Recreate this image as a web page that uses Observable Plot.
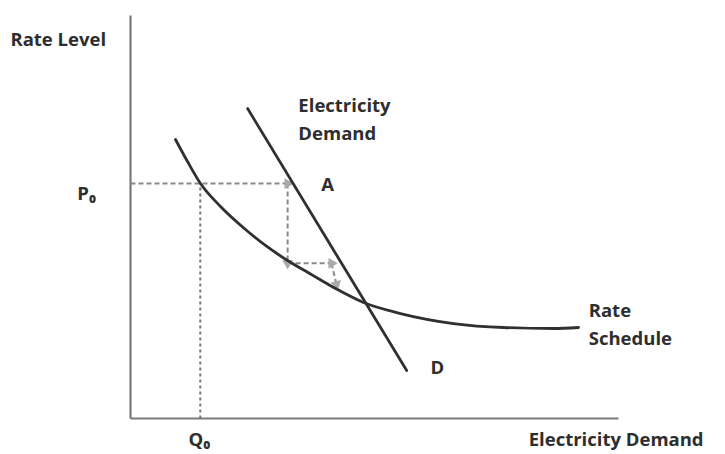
<!DOCTYPE html>
<html>
<head>
<meta charset="utf-8">
<script src="https://cdn.jsdelivr.net/npm/d3@7"></script>
<script src="https://cdn.jsdelivr.net/npm/@observablehq/plot@0.6"></script>
<style>
  html, body { margin: 0; padding: 0; background: #fff; }
  #chart svg { display: block; }
</style>
</head>
<body>
<div id="chart"></div>
<script>
// Rate schedule (quantity, rate) in abstract units 0–100
const scheduleQ = [9.22, 11.68, 14.34, 18.44, 23.57, 27.66, 32.17, 36.89, 42.01, 47.75, 55.33, 66.19, 76.43, 86.68, 91.80];
const scheduleR = [69.23, 63.77, 58.31, 52.61, 46.90, 42.93, 39.21, 35.86, 32.26, 28.78, 26.05, 23.57, 22.58, 22.33, 22.58];
// Electricity demand line
const demandQ = [24.0, 56.6];
const demandR = [76.9, 11.9];
// Starting rate and quantity
const P0 = 58.3, Q0 = 14.3;
// Iteration steps (quantity, rate)
const stepQ = [0, 32.2, 32.2, 41.2, 42.2];
const stepR = [P0, P0, 38.5, 38.5, 33.3];

const schedule = scheduleQ.map((q, i) => ({q, r: scheduleR[i]}));
const demand = demandQ.map((q, i) => ({q, r: demandR[i]}));
const segs = [];
for (let i = 0; i < stepQ.length - 1; i++) {
  segs.push({x1: stepQ[i], y1: stepR[i], x2: stepQ[i + 1], y2: stepR[i + 1]});
}
const heads = segs.map(s => ({
  q: s.x2, r: s.y2,
  rot: 90 - Math.atan2(s.y2 - s.y1, (s.x2 - s.x1) * 4.88 / 4.03) * 180 / Math.PI
}));

const font = "'Open Sans', sans-serif";
const labels = [
  {q: -24.6, r: 93.8, t: "Rate Level"},
  {q: 34.4, r: 77.4, t: "Electricity"},
  {q: 34.4, r: 70.5, t: "Demand"},
  {q: 39.1, r: 57.8, t: "A"},
  {q: -10.9, r: 55.8, t: "P₀"},
  {q: 11.9, r: -5.3, t: "Q₀"},
  {q: 61.5, r: 12.4, t: "D"},
  {q: 93.9, r: 26.6, t: "Rate"},
  {q: 93.9, r: 19.6, t: "Schedule"},
  {q: 81.6, r: -5.3, t: "Electricity Demand"}
];

const chart = Plot.plot({
  width: 725,
  height: 454,
  margin: 0,
  style: {background: "#fff"},
  x: {domain: [0, 100], range: [130, 618], axis: null},
  y: {domain: [0, 100], range: [418, 15], axis: null},
  marks: [
    // axes
    Plot.link([{x1: 0, y1: 0, x2: 0, y2: 100}, {x1: 0, y1: 0, x2: 100, y2: 0}],
      {x1: "x1", y1: "y1", x2: "x2", y2: "y2", stroke: "#7a7a7a", strokeWidth: 2.2}),
    // P0 / Q0 guides
    Plot.link([{x1: Q0, y1: 0, x2: Q0, y2: P0}],
      {x1: "x1", y1: "y1", x2: "x2", y2: "y2", stroke: "#777", strokeWidth: 2, strokeDasharray: "3,3"}),
    Plot.link(segs,
      {x1: "x1", y1: "y1", x2: "x2", y2: "y2", stroke: "#8a8a8a", strokeWidth: 2, strokeDasharray: "5,3"}),
    Plot.dot(heads, {x: "q", y: "r", symbol: "triangle", rotate: "rot", r: 4, fill: "#aaa", stroke: null}),
    // curves
    Plot.line(schedule, {x: "q", y: "r", curve: "monotone-x", stroke: "#303030", strokeWidth: 2.8}),
    Plot.line(demand, {x: "q", y: "r", stroke: "#303030", strokeWidth: 2.8}),
    // labels
    Plot.text(labels, {x: "q", y: "r", text: "t", textAnchor: "start", lineAnchor: "middle",
      fontFamily: font, fontWeight: "bold", fontSize: 18.5, fill: "#2e2e2e"})
  ]
});
document.getElementById("chart").appendChild(chart);
</script>
</body>
</html>
